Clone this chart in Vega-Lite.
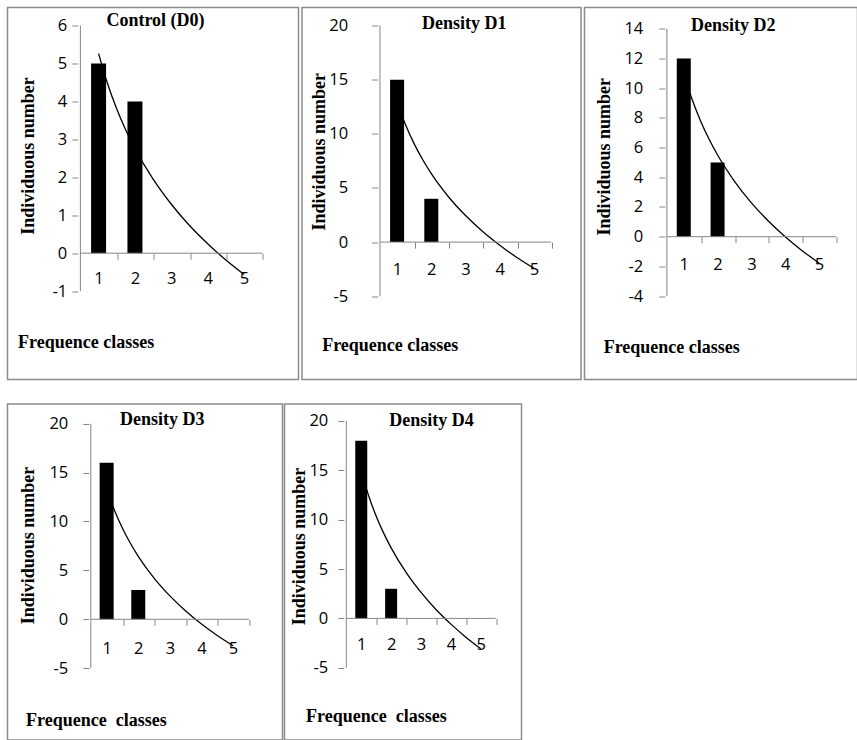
{
  "$schema": "https://vega.github.io/schema/vega-lite/v6.json",
  "background": "white",
  "padding": {"left": 6.5, "top": 6.5, "right": 0, "bottom": 0},
  "config": {
    "view": {"stroke": "#8c8c8c", "strokeWidth": 1.5},
    "style": {"guide-label": {"font": "Open Sans", "fontSize": 16.5, "fill": "#000"}, "guide-title": {"font": "Liberation Serif", "fontSize": 18, "fontWeight": "bold", "fill": "#000"}},
    "axis": {"labelFont": "Open Sans", "labelFontSize": 16.5, "labelColor": "#000", "titleFont": "Liberation Serif", "titleFontSize": 18, "titleFontWeight": "bold", "titleColor": "#000", "tickColor": "#868686", "tickSize": 6, "tickWidth": 1, "domain": false, "grid": false, "labelFlush": false, "labelOverlap": false},
    "title": {"font": "Liberation Serif", "fontSize": 18, "fontWeight": "bold", "color": "#000", "frame": "group", "anchor": "middle", "baseline": "alphabetic"}
  },
  "datasets": {
    "bars": [
      {"panel": "D0", "cls": 1, "value": 5}, {"panel": "D0", "cls": 2, "value": 4},
      {"panel": "D1", "cls": 1, "value": 15}, {"panel": "D1", "cls": 2, "value": 4},
      {"panel": "D2", "cls": 1, "value": 12}, {"panel": "D2", "cls": 2, "value": 5},
      {"panel": "D3", "cls": 1, "value": 16}, {"panel": "D3", "cls": 2, "value": 3},
      {"panel": "D4", "cls": 1, "value": 18}, {"panel": "D4", "cls": 2, "value": 3}
    ],
    "trend": [
      {"panel": "D0", "cls": 1, "value": 5.26}, {"panel": "D0", "cls": 1.25, "value": 4.46}, {"panel": "D0", "cls": 1.5, "value": 3.8}, {"panel": "D0", "cls": 1.75, "value": 3.24}, {"panel": "D0", "cls": 2, "value": 2.76}, {"panel": "D0", "cls": 2.5, "value": 1.95}, {"panel": "D0", "cls": 3, "value": 1.29}, {"panel": "D0", "cls": 3.5, "value": 0.73}, {"panel": "D0", "cls": 4, "value": 0.25}, {"panel": "D0", "cls": 4.5, "value": -0.18}, {"panel": "D0", "cls": 5, "value": -0.56},
      {"panel": "D1", "cls": 1, "value": 12.94}, {"panel": "D1", "cls": 1.25, "value": 10.81}, {"panel": "D1", "cls": 1.5, "value": 9.07}, {"panel": "D1", "cls": 1.75, "value": 7.6}, {"panel": "D1", "cls": 2, "value": 6.32}, {"panel": "D1", "cls": 2.5, "value": 4.19}, {"panel": "D1", "cls": 3, "value": 2.45}, {"panel": "D1", "cls": 3.5, "value": 0.98}, {"panel": "D1", "cls": 4, "value": -0.29}, {"panel": "D1", "cls": 4.5, "value": -1.42}, {"panel": "D1", "cls": 5, "value": -2.42},
      {"panel": "D2", "cls": 1, "value": 10.99}, {"panel": "D2", "cls": 1.25, "value": 9.22}, {"panel": "D2", "cls": 1.5, "value": 7.78}, {"panel": "D2", "cls": 1.75, "value": 6.56}, {"panel": "D2", "cls": 2, "value": 5.5}, {"panel": "D2", "cls": 2.5, "value": 3.73}, {"panel": "D2", "cls": 3, "value": 2.28}, {"panel": "D2", "cls": 3.5, "value": 1.06}, {"panel": "D2", "cls": 4, "value": 0}, {"panel": "D2", "cls": 4.5, "value": -0.94}, {"panel": "D2", "cls": 5, "value": -1.77},
      {"panel": "D3", "cls": 1, "value": 13.35}, {"panel": "D3", "cls": 1.25, "value": 11.12}, {"panel": "D3", "cls": 1.5, "value": 9.31}, {"panel": "D3", "cls": 1.75, "value": 7.77}, {"panel": "D3", "cls": 2, "value": 6.44}, {"panel": "D3", "cls": 2.5, "value": 4.21}, {"panel": "D3", "cls": 3, "value": 2.39}, {"panel": "D3", "cls": 3.5, "value": 0.85}, {"panel": "D3", "cls": 4, "value": -0.48}, {"panel": "D3", "cls": 4.5, "value": -1.65}, {"panel": "D3", "cls": 5, "value": -2.7},
      {"panel": "D4", "cls": 1, "value": 14.89}, {"panel": "D4", "cls": 1.25, "value": 12.4}, {"panel": "D4", "cls": 1.5, "value": 10.36}, {"panel": "D4", "cls": 1.75, "value": 8.64}, {"panel": "D4", "cls": 2, "value": 7.15}, {"panel": "D4", "cls": 2.5, "value": 4.66}, {"panel": "D4", "cls": 3, "value": 2.63}, {"panel": "D4", "cls": 3.5, "value": 0.9}, {"panel": "D4", "cls": 4, "value": -0.58}, {"panel": "D4", "cls": 4.5, "value": -1.9}, {"panel": "D4", "cls": 5, "value": -3.07}
    ]
  },
  "vconcat": [
    {
      "hconcat": [
        {
          "width": 291, "height": 372,
          "title": {"text": "Control (D0)", "offset": -22.5, "dx": 2.5},
          "layer": [
            {"data": {"name": "trend"}, "transform": [{"filter": "datum.panel === 'D0'"}],
             "mark": {"type": "line", "color": "#000", "strokeWidth": 1.3, "interpolate": "monotone"},
             "encoding": {
               "x": {"field": "cls", "type": "quantitative", "scale": {"domain": [-1.367, 6.36], "nice": false, "zero": false},
                     "axis": {"values": [1, 2, 3, 4, 5], "labelExpr": "'' + datum.value", "labelFont": "Open Sans", "labelFontSize": 16.5, "labelColor": "#000", "tickOffset": 18.83, "labelOffset": -18.83, "offset": -126.3, "labelPadding": 19, "labelBaseline": "middle", "labelAlign": "center", "title": "Frequence classes", "titleX": 10, "titleY": 94, "titleAlign": "left", "titleBaseline": "alphabetic", "titleAngle": 0}},
               "y": {"field": "value", "type": "quantitative", "scale": {"domain": [-3.328, 6.474], "nice": false, "zero": false},
                     "axis": {"values": [-1, 0, 1, 2, 3, 4, 5, 6], "labelExpr": "'' + datum.value", "labelFont": "Open Sans", "labelFontSize": 16.5, "labelColor": "#000", "offset": -70.3, "labelPadding": 5, "labelBaseline": "middle", "labelAlign": "right", "title": "Individuous number", "titleX": -49, "titleY": 148, "titleAngle": -90, "titleAlign": "center", "titleBaseline": "middle"}}
             }},
            {"data": {"name": "bars"}, "transform": [{"filter": "datum.panel === 'D0'"}],
             "mark": {"type": "bar", "color": "#000", "width": 15},
             "encoding": {"x": {"field": "cls", "type": "quantitative"}, "y": {"field": "value", "type": "quantitative"}}},
            {"data": {"values": [{}]}, "mark": {"type": "rule", "color": "#868686", "strokeWidth": 1},
             "encoding": {"x": {"datum": 0.5, "type": "quantitative"}, "y": {"datum": -1, "type": "quantitative"}, "y2": {"datum": 6}}},
            {"data": {"values": [{}]}, "mark": {"type": "rule", "color": "#868686", "strokeWidth": 1},
             "encoding": {"x": {"datum": 0.5, "type": "quantitative"}, "x2": {"datum": 5.5}, "y": {"datum": 0, "type": "quantitative"}}}
          ]
        },
        {
          "width": 279, "height": 372,
          "title": {"text": "Density D1", "offset": -25.7, "dx": 22.8},
          "layer": [
            {"data": {"name": "trend"}, "transform": [{"filter": "datum.panel === 'D1'"}],
             "mark": {"type": "line", "color": "#000", "strokeWidth": 1.3, "interpolate": "monotone"},
             "encoding": {
               "x": {"field": "cls", "type": "quantitative", "scale": {"domain": [-1.632, 6.227], "nice": false, "zero": false},
                     "axis": {"values": [1, 2, 3, 4, 5], "labelExpr": "'' + datum.value", "labelFont": "Open Sans", "labelFontSize": 16.5, "labelColor": "#000", "tickOffset": 17.75, "labelOffset": -17.75, "offset": -137.4, "labelPadding": 21.6, "labelBaseline": "middle", "labelAlign": "center", "title": "Frequence classes", "titleX": 19.7, "titleY": 108.6, "titleAlign": "left", "titleBaseline": "alphabetic", "titleAngle": 0}},
               "y": {"field": "value", "type": "quantitative", "scale": {"domain": [-12.687, 21.662], "nice": false, "zero": false},
                     "axis": {"values": [-5, 0, 5, 10, 15, 20], "labelExpr": "'' + datum.value", "labelFont": "Open Sans", "labelFontSize": 16.5, "labelColor": "#000", "offset": -75.7, "labelPadding": 24, "labelBaseline": "middle", "labelAlign": "right", "title": "Individuous number", "titleX": -58.4, "titleY": 143.8, "titleAngle": -90, "titleAlign": "center", "titleBaseline": "middle"}}
             }},
            {"data": {"name": "bars"}, "transform": [{"filter": "datum.panel === 'D1'"}],
             "mark": {"type": "bar", "color": "#000", "width": 14},
             "encoding": {"x": {"field": "cls", "type": "quantitative"}, "y": {"field": "value", "type": "quantitative"}}},
            {"data": {"values": [{}]}, "mark": {"type": "rule", "color": "#868686", "strokeWidth": 1},
             "encoding": {"x": {"datum": 0.5, "type": "quantitative"}, "y": {"datum": -5, "type": "quantitative"}, "y2": {"datum": 20}}},
            {"data": {"values": [{}]}, "mark": {"type": "rule", "color": "#868686", "strokeWidth": 1},
             "encoding": {"x": {"datum": 0.5, "type": "quantitative"}, "x2": {"datum": 5.5}, "y": {"datum": 0, "type": "quantitative"}}}
          ]
        },
        {
          "width": 273, "height": 372,
          "title": {"text": "Density D2", "offset": -27.3, "dx": 12.2},
          "layer": [
            {"data": {"name": "trend"}, "transform": [{"filter": "datum.panel === 'D2'"}],
             "mark": {"type": "line", "color": "#000", "strokeWidth": 1.3, "interpolate": "monotone"},
             "encoding": {
               "x": {"field": "cls", "type": "quantitative", "scale": {"domain": [-1.788, 5.99], "nice": false, "zero": false},
                     "axis": {"values": [1, 2, 3, 4, 5], "labelExpr": "'' + datum.value", "labelFont": "Open Sans", "labelFontSize": 16.5, "labelColor": "#000", "tickOffset": 17.55, "labelOffset": -17.55, "offset": -142.8, "labelPadding": 21.6, "labelBaseline": "middle", "labelAlign": "center", "title": "Frequence classes", "titleX": 18.7, "titleY": 115.3, "titleAlign": "left", "titleBaseline": "alphabetic", "titleAngle": 0}},
               "y": {"field": "value", "type": "quantitative", "scale": {"domain": [-9.617, 15.434], "nice": false, "zero": false},
                     "axis": {"values": [-4, -2, 0, 2, 4, 6, 8, 10, 12, 14], "labelExpr": "'' + datum.value", "labelFont": "Open Sans", "labelFontSize": 16.5, "labelColor": "#000", "offset": -80.3, "labelPadding": 16, "labelBaseline": "middle", "labelAlign": "right", "title": "Individuous number", "titleX": -60, "titleY": 148.8, "titleAngle": -90, "titleAlign": "center", "titleBaseline": "middle"}}
             }},
            {"data": {"name": "bars"}, "transform": [{"filter": "datum.panel === 'D2'"}],
             "mark": {"type": "bar", "color": "#000", "width": 14},
             "encoding": {"x": {"field": "cls", "type": "quantitative"}, "y": {"field": "value", "type": "quantitative"}}},
            {"data": {"values": [{}]}, "mark": {"type": "rule", "color": "#868686", "strokeWidth": 1},
             "encoding": {"x": {"datum": 0.5, "type": "quantitative"}, "y": {"datum": -4, "type": "quantitative"}, "y2": {"datum": 14}}},
            {"data": {"values": [{}]}, "mark": {"type": "rule", "color": "#868686", "strokeWidth": 1},
             "encoding": {"x": {"datum": 0.5, "type": "quantitative"}, "x2": {"datum": 5.5}, "y": {"datum": 0, "type": "quantitative"}}}
          ]
        }
      ],
      "spacing": 1.5
    },
    {
      "hconcat": [
        {
          "width": 275, "height": 336,
          "title": {"text": "Density D3", "offset": -24.7, "dx": 17.2},
          "layer": [
            {"data": {"name": "trend"}, "transform": [{"filter": "datum.panel === 'D3'"}],
             "mark": {"type": "line", "color": "#000", "strokeWidth": 1.3, "interpolate": "monotone"},
             "encoding": {
               "x": {"field": "cls", "type": "quantitative", "scale": {"domain": [-1.979, 6.405], "nice": false, "zero": false},
                     "axis": {"values": [1, 2, 3, 4, 5], "labelExpr": "'' + datum.value", "labelFont": "Open Sans", "labelFontSize": 16.5, "labelColor": "#000", "tickOffset": 16.4, "labelOffset": -16.4, "offset": -120.7, "labelPadding": 23.4, "labelBaseline": "middle", "labelAlign": "center", "title": "Frequence\u00a0 classes", "titleX": 18, "titleY": 106, "titleAlign": "left", "titleBaseline": "alphabetic", "titleAngle": 0}},
               "y": {"field": "value", "type": "quantitative", "scale": {"domain": [-12.342, 22.014], "nice": false, "zero": false},
                     "axis": {"values": [-5, 0, 5, 10, 15, 20], "labelExpr": "'' + datum.value", "labelFont": "Open Sans", "labelFontSize": 16.5, "labelColor": "#000", "offset": -81.3, "labelPadding": 15, "labelBaseline": "middle", "labelAlign": "right", "title": "Individuous number", "titleX": -60, "titleY": 141, "titleAngle": -90, "titleAlign": "center", "titleBaseline": "middle"}}
             }},
            {"data": {"name": "bars"}, "transform": [{"filter": "datum.panel === 'D3'"}],
             "mark": {"type": "bar", "color": "#000", "width": 14},
             "encoding": {"x": {"field": "cls", "type": "quantitative"}, "y": {"field": "value", "type": "quantitative"}}},
            {"data": {"values": [{}]}, "mark": {"type": "rule", "color": "#868686", "strokeWidth": 1},
             "encoding": {"x": {"datum": 0.5, "type": "quantitative"}, "y": {"datum": -5, "type": "quantitative"}, "y2": {"datum": 20}}},
            {"data": {"values": [{}]}, "mark": {"type": "rule", "color": "#868686", "strokeWidth": 1},
             "encoding": {"x": {"datum": 0.5, "type": "quantitative"}, "x2": {"datum": 5.5}, "y": {"datum": 0, "type": "quantitative"}}}
          ]
        },
        {
          "width": 237, "height": 336,
          "title": {"text": "Density D4", "offset": -26.3, "dx": 28.5},
          "layer": [
            {"data": {"name": "trend"}, "transform": [{"filter": "datum.panel === 'D4'"}],
             "mark": {"type": "line", "color": "#000", "strokeWidth": 1.3, "interpolate": "monotone"},
             "encoding": {
               "x": {"field": "cls", "type": "quantitative", "scale": {"domain": [-1.401, 6.195], "nice": false, "zero": false},
                     "axis": {"values": [1, 2, 3, 4, 5], "labelExpr": "'' + datum.value", "labelFont": "Open Sans", "labelFontSize": 16.5, "labelColor": "#000", "tickOffset": 15.6, "labelOffset": -15.6, "offset": -121.6, "labelPadding": 20, "labelBaseline": "middle", "labelAlign": "center", "title": "Frequence\u00a0 classes", "titleX": 21, "titleY": 102.6, "titleAlign": "left", "titleBaseline": "alphabetic", "titleAngle": 0}},
               "y": {"field": "value", "type": "quantitative", "scale": {"domain": [-12.321, 21.722], "nice": false, "zero": false},
                     "axis": {"values": [-5, 0, 5, 10, 15, 20], "labelExpr": "'' + datum.value", "labelFont": "Open Sans", "labelFontSize": 16.5, "labelColor": "#000", "offset": -59.3, "labelPadding": 10, "labelBaseline": "middle", "labelAlign": "right", "title": "Individuous number", "titleX": -44, "titleY": 142, "titleAngle": -90, "titleAlign": "center", "titleBaseline": "middle"}}
             }},
            {"data": {"name": "bars"}, "transform": [{"filter": "datum.panel === 'D4'"}],
             "mark": {"type": "bar", "color": "#000", "width": 12},
             "encoding": {"x": {"field": "cls", "type": "quantitative"}, "y": {"field": "value", "type": "quantitative"}}},
            {"data": {"values": [{}]}, "mark": {"type": "rule", "color": "#868686", "strokeWidth": 1},
             "encoding": {"x": {"datum": 0.5, "type": "quantitative"}, "y": {"datum": -5, "type": "quantitative"}, "y2": {"datum": 20}}},
            {"data": {"values": [{}]}, "mark": {"type": "rule", "color": "#868686", "strokeWidth": 1},
             "encoding": {"x": {"datum": 0.5, "type": "quantitative"}, "x2": {"datum": 5.5}, "y": {"datum": 0, "type": "quantitative"}}}
          ]
        }
      ],
      "spacing": 0
    }
  ],
  "spacing": 22.5
}
